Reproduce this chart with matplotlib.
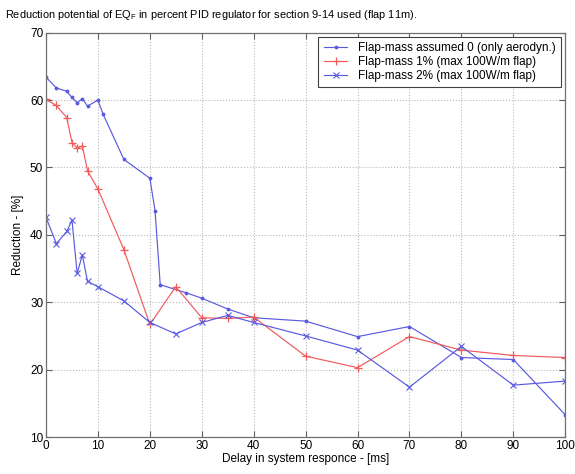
import matplotlib
matplotlib.use("Agg")
import matplotlib.pyplot as plt

plt.rcParams['font.family'] = ['Liberation Sans', 'DejaVu Sans']

# Flap-mass assumed 0 (only aerodynamic)
delay_m0 = [0, 2, 4, 5, 6, 7, 8, 10, 11, 15, 20, 21, 22, 27, 30, 35, 40, 50, 60, 70, 80, 90, 100]
red_m0 = [63.4, 61.8, 61.3, 60.4, 59.6, 60.2, 59.1, 60.0, 57.9, 51.2, 48.4, 43.6, 32.6,
          31.4, 30.6, 29.0, 27.7, 27.2, 24.9, 26.4, 21.8, 21.5, 13.3]

# Flap-mass 1%
delay_m1 = [0, 2, 4, 5, 6, 7, 8, 10, 15, 20, 25, 30, 35, 40, 50, 60, 70, 80, 90, 100]
red_m1 = [60.1, 59.2, 57.4, 53.7, 52.9, 53.2, 49.5, 46.8, 37.8, 26.7, 32.3, 27.7, 27.6,
          27.8, 22.0, 20.3, 24.9, 22.9, 22.1, 21.8]

# Flap-mass 2%
delay_m2 = [0, 2, 4, 5, 6, 7, 8, 10, 15, 20, 25, 30, 35, 40, 50, 60, 70, 80, 90, 100]
red_m2 = [42.6, 38.7, 40.5, 42.2, 34.3, 37.0, 33.1, 32.3, 30.2, 27.0, 25.3, 27.0, 28.05,
          27.0, 25.0, 22.9, 17.4, 23.45, 17.7, 18.3]

labels = ['Flap-mass assumed 0 (only aerodyn.)',
          'Flap-mass 1% (max 100W/m flap)',
          'Flap-mass 2% (max 100W/m flap)']

x_ticks = list(range(0, 101, 10))
y_ticks = list(range(10, 71, 10))

fig = plt.figure(figsize=(5.75, 4.74), dpi=100)
ax = fig.add_axes([0.080, 0.078, 0.903, 0.853])

blue = '#5a5ae0'
red = '#f05a5a'
ax.plot(delay_m0, red_m0, '-', color=blue, marker='.', markersize=3.5, lw=0.85, label=labels[0])
ax.plot(delay_m1, red_m1, '-', color=red, marker='+', markersize=6, mew=0.9, lw=0.85, label=labels[1])
ax.plot(delay_m2, red_m2, '-', color=blue, marker='x', markersize=4, mew=0.8, lw=0.85, label=labels[2])

ax.set_xlim(0, 100)
ax.set_ylim(10, 70)
ax.set_xticks(x_ticks)
ax.set_yticks(y_ticks)
ax.tick_params(direction='in', top=True, right=True, length=4, width=0.8,
               labelsize=8.5, color='#606060', pad=2)
for s in ax.spines.values():
    s.set_color('#707070')
    s.set_linewidth(0.9)
ax.grid(True, linestyle=':', color='#b8b8b8', linewidth=0.8)

ax.set_xlabel('Delay in system responce - [ms]', fontsize=8.5, labelpad=1)
ax.set_ylabel('Reduction - [%]', fontsize=8.5, labelpad=4)

leg = ax.legend(loc='upper right', fontsize=8.5, handlelength=2.0, borderpad=0.45,
                labelspacing=0.15, handletextpad=0.9, fancybox=False,
                framealpha=1, edgecolor='#404040', borderaxespad=0.35)
leg.get_frame().set_linewidth(0.8)

fig.text(0.009, 0.968, r'Reduction potential of EQ$_\mathregular{F}$ in percent PID regulator for section 9-14 used (flap 11m).',
         fontsize=7.9, ha='left', va='center')

fig.savefig('out.png', dpi=100)
